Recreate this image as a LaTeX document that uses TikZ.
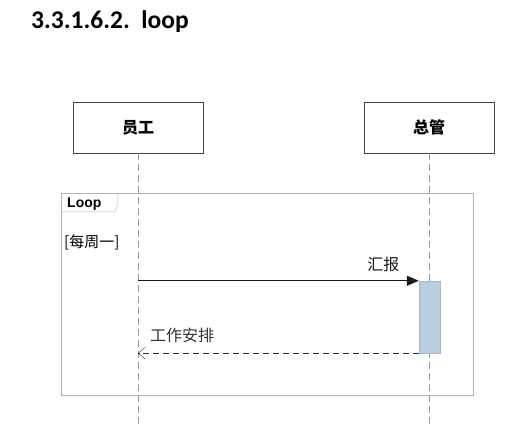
\documentclass[tikz,border=0pt]{standalone}
\usepackage{fontspec}
\setmainfont{Carlito}
\newfontfamily\cjk{Noto Sans CJK SC}
\newfontfamily\tabfont{Liberation Sans}
\usetikzlibrary{arrows.meta}

\begin{document}
\begin{tikzpicture}
  [x=1pt,y=-1pt,every node/.style={inner sep=0pt}]
  \tikzstyle{actor} = [draw=black!75,fill=white,minimum width=130pt,minimum height=51pt,font=\cjk\bfseries\fontsize{16}{16}\selectfont]
  \tikzstyle{lifeline} = [draw=black!40,dash pattern=on 7pt off 4pt]
  \tikzstyle{msg} = [font=\cjk\fontsize{16}{16}\selectfont]
  \tikzstyle{activation} = [draw={rgb,255:red,165;green,185;blue,205},fill={rgb,255:red,186;green,206;blue,226},minimum width=21pt,minimum height=72pt]
  \useasboundingbox (0,0) rectangle (506,425);
  \node[anchor=base west,font=\bfseries\fontsize{25.5}{25.5}\selectfont] (title) at (31,29) {3.3.1.6.2.\ \ loop};
  \node[actor] (ee) at (138,127.5) {员工};
  \node[actor] (zg) at (429,127.5) {总管};
  \coordinate (eeend) at (138,425);
  \coordinate (zgend) at (429,425);
  \foreach \source /\dest in {ee/eeend,zg/zgend}
    \draw[lifeline] (\source) -- (\dest);
  % loop fragment
  \node[draw=black!30,minimum width=412pt,minimum height=202pt] (frame) at (267,294) {};
  \draw[black!30] (frame.north west) ++(0,19) -- ++(54,0) -- ++(3,-8) -- ++(0,-11);
  \node[anchor=west,font=\tabfont\bfseries\fontsize{14}{14}\selectfont] (looplbl) at (67,204) {Loop};
  \node[anchor=west,font=\cjk\fontsize{15}{15}\selectfont] (guard) at (64,242) {[每周一]};
  \node[activation] (act) at (429.5,317) {};
  \draw[black!90,thick,-{Triangle[length=12pt,width=10pt]}] (ee |- act.north west) -- (act.north west)
    node[msg,anchor=south east,xshift=-19pt,yshift=9pt] (report) {汇报};
  \draw[black!80,dash pattern=on 6pt off 4pt,-{Straight Barb[length=7pt,width=12pt]}] (act.south west) -- (ee |- act.south west)
    node[msg,anchor=south west,xshift=12pt,yshift=10pt] (plan) {工作安排};
\end{tikzpicture}
\end{document}
